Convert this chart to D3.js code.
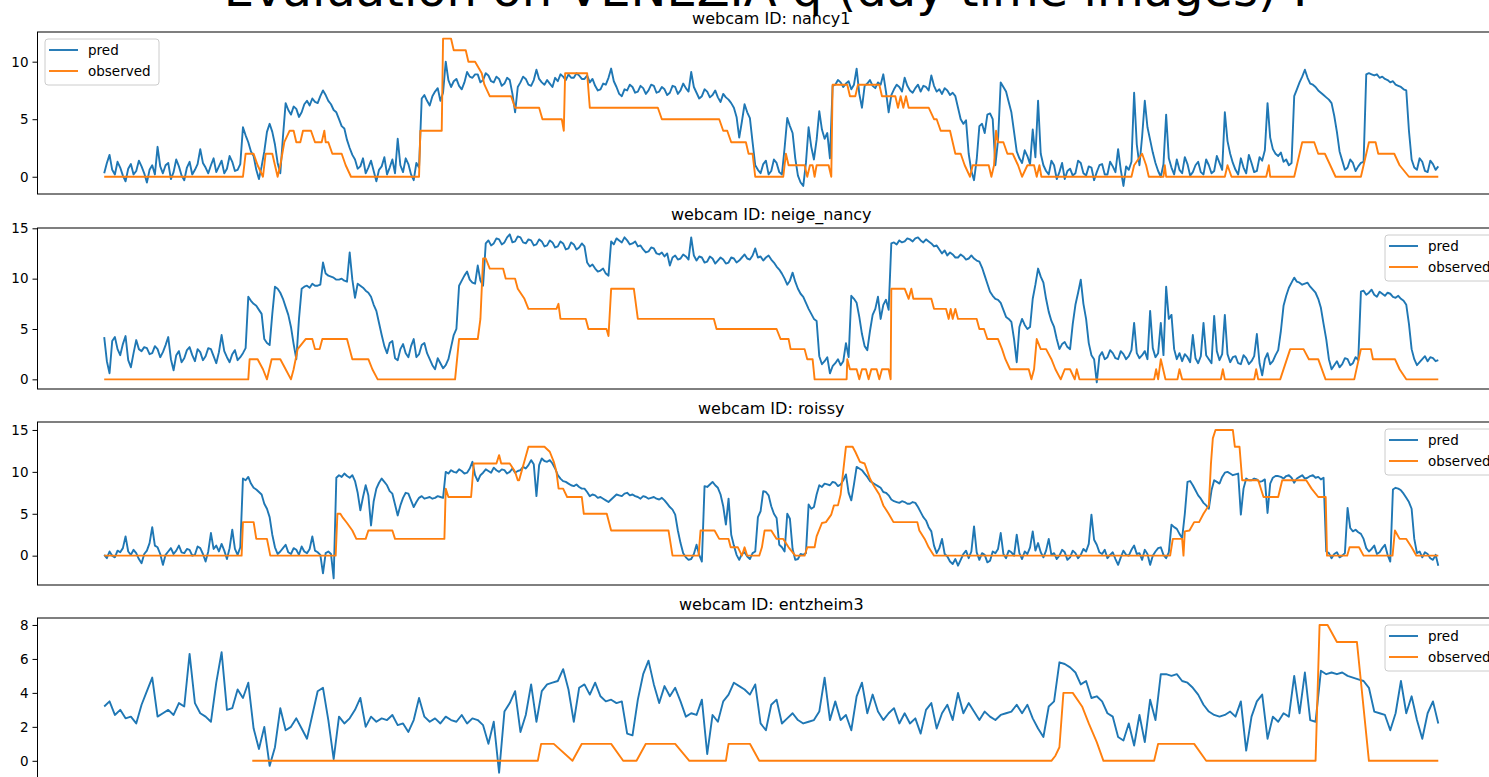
<!doctype html>
<html>
<head>
<meta charset="utf-8">
<title>Evaluation per webcam</title>
<script src="https://d3js.org/d3.v7.min.js"></script>
<style>
  body { margin: 0; background: #fff; }
  svg { display: block; font-family: "DejaVu Sans", sans-serif; }
</style>
</head>
<body>
<script>
// ---- data ----
const suptitle = "Evaluation on VENEZIA q (day time images) :";
const camIds = ["nancy1", "neige_nancy", "roissy", "entzheim3"];
const seriesNames = ["pred", "observed"];

// predictions, evenly spaced over t = 0 .. tMax
const tMax = 1000;
const pred1 = [
  0.3, 1.2, 1.9, 0.6, 0.2, 1.3, 0.8, 0.1, -0.4, 0.7, 1.1, 0.2, 0.5, 1.4, 0.9, 0.3, -0.5, 0.6, 1.0, 0.2,
  2.6, 0.9, 0.3, 1.0, 1.2, -0.2, 0.4, 1.5, 0.9, 0.1, -0.3, 0.8, 1.3, 0.2, 0.6, 1.1, 2.4, 1.2, 0.8, 0.3,
  1.0, 1.6, 0.4, 0.9, 1.4, 0.3, 0.7, 1.8, 1.3, 0.5, 0.6, 1.1, 4.3, 3.6, 3.0, 2.2, 1.8, 0.6, -0.2, 0.9,
  2.2, 3.9, 4.6, 3.9, 2.8, 1.2, 0.3, 3.5, 6.4, 5.8, 5.4, 6.1, 5.9, 5.2, 5.6, 6.3, 6.6, 6.2, 6.8, 6.5,
  6.4, 7.0, 7.5, 7.1, 6.6, 6.3, 5.8, 5.6, 5.0, 4.4, 4.2, 3.2, 2.5, 1.9, 1.5, 0.7, 0.9, 1.6, 0.3, 0.8,
  1.4, 0.5, -0.4, 0.6, 0.9, 1.7, 0.2, 0.8, 1.5, 0.3, 3.3, 1.0, 0.4, 1.6, 1.1, 0.2, -0.3, 1.2, 0.8, 6.8,
  7.1, 6.6, 6.2, 7.0, 7.4, 7.7, 6.6, 7.3, 10.0, 8.4, 7.8, 8.3, 8.5, 7.9, 7.6, 8.2, 9.1, 8.7, 8.6, 8.9,
  8.9, 8.2, 8.4, 9.0, 8.8, 8.3, 8.2, 8.7, 8.5, 7.9, 8.1, 8.6, 8.4, 7.2, 5.6, 7.8, 8.2, 8.7, 8.5, 8.0,
  7.9, 8.4, 9.3, 8.5, 8.2, 8.0, 8.4, 8.1, 7.8, 8.6, 8.3, 8.9, 8.7, 8.4, 8.9, 8.6, 8.6, 9.0, 8.8, 8.5,
  8.5, 8.8, 8.2, 8.5, 7.9, 7.5, 7.6, 8.1, 8.0, 8.6, 9.4, 8.3, 7.8, 7.2, 7.0, 7.6, 7.5, 8.0, 7.8, 7.3,
  7.4, 7.9, 7.7, 7.2, 7.5, 8.0, 7.9, 7.3, 7.4, 7.8, 7.6, 7.1, 7.3, 7.9, 7.8, 7.2, 7.5, 8.1, 7.7, 7.4,
  9.1, 7.8, 7.3, 6.8, 7.0, 7.6, 7.4, 6.9, 7.1, 7.5, 6.9, 6.5, 7.2, 6.9, 6.7, 6.4, 6.0, 5.2, 3.4, 4.8,
  6.3, 5.6, 5.1, 3.0, 1.0, 0.6, 0.3, 1.1, 1.4, 0.2, 0.5, 1.5, 1.2, 0.4, 0.2, 2.5, 5.1, 4.4, 3.8, 1.6,
  0.1, -0.5, -0.8, 1.2, 4.3, 2.6, 1.5, 3.2, 5.7, 4.1, 3.3, 3.8, 1.6, 7.9, 8.0, 8.4, 8.2, 7.8, 8.1, 8.3,
  7.6, 8.0, 9.4, 7.2, 6.0, 7.9, 8.1, 8.4, 7.9, 7.7, 8.2, 8.0, 8.9, 7.4, 5.6, 7.1, 7.6, 8.0, 7.8, 7.4,
  8.6, 7.9, 7.5, 7.3, 7.7, 8.0, 7.4, 7.9, 7.8, 7.5, 8.8, 7.9, 7.4, 7.6, 7.2, 7.7, 7.5, 7.1, 7.3, 7.0,
  6.0, 5.0, 4.6, 4.9, 2.0, 0.5, -0.3, 1.5, 4.4, 4.6, 3.8, 5.4, 5.5, 5.0, 1.0, 3.2, 8.2, 7.8, 7.4, 6.5,
  5.6, 3.9, 2.2, 1.6, 1.2, 2.3, 1.8, 1.1, 4.1, 1.7, 6.6, 2.0, 1.0, 0.5, 0.2, 1.4, 1.0, -0.2, 0.4, 1.2,
  -0.2, 0.5, 0.7, 0.1, 0.3, 1.4, 1.2, 0.3, 0.1, 0.9, 0.8, -0.3, 0.4, 1.0, 1.1, 0.2, 0.2, 1.3, 0.9, 0.4,
  2.4, 0.6, -0.8, 0.9, 0.6, 1.3, 7.3, 2.8, 1.0, 3.5, 6.6, 4.3, 3.2, 2.1, 1.2, 0.5, 0.0, 1.1, 5.4, 1.6,
  0.8, 0.2, 1.5, 0.6, 0.3, 1.7, 1.1, 0.1, 0.4, 1.0, 1.3, 0.4, 0.2, 1.5, 1.0, 0.3, 0.5, 1.8, 1.2, 0.6,
  5.6, 3.1, 2.0, 1.2, 0.6, 0.2, 1.6, 0.8, 0.3, 1.9, 1.2, 0.4, 0.5, 1.7, 1.4, 2.3, 6.4, 3.4, 2.4, 2.0,
  1.8, 2.1, 1.3, 1.5, 1.0, 1.2, 7.0, 7.6, 8.2, 8.7, 9.3, 8.6, 8.1, 8.0, 7.8, 7.5, 7.3, 7.1, 6.9, 6.7,
  6.4, 5.3, 3.9, 2.2, 1.4, 0.6, 0.8, 1.5, 1.2, 0.5, 0.9, 1.2, 1.3, 8.9, 9.0, 8.9, 8.8, 8.9, 8.6, 8.7,
  8.5, 8.4, 8.2, 8.3, 8.0, 7.9, 7.8, 7.6, 7.5, 4.0, 1.5, 0.8, 0.6, 1.6, 1.3, 0.5, 0.4, 1.4, 1.1, 0.6,
  0.9
];
const pred2 = [
  4.2, 1.8, 0.6, 3.8, 4.2, 3.0, 2.4, 3.5, 4.3, 1.9, 1.2, 2.6, 3.9, 3.0, 2.8, 3.2, 3.1, 2.5, 2.6, 3.3,
  3.0, 2.2, 2.7, 3.4, 4.2, 2.0, 0.9, 2.4, 2.8, 1.7, 2.1, 2.9, 3.2, 2.4, 1.8, 3.0, 2.7, 1.9, 2.3, 3.1,
  3.0, 2.3, 1.6, 2.7, 4.4, 2.8, 2.2, 1.7, 2.5, 2.9, 1.9, 2.2, 2.6, 3.1, 8.2, 7.8, 7.5, 7.3, 6.9, 6.5,
  4.0, 3.6, 3.4, 6.5, 9.2, 9.0, 8.6, 8.0, 7.2, 6.4, 5.2, 3.5, 2.0, 6.0, 9.0, 9.2, 9.3, 9.1, 9.5, 9.3,
  9.3, 9.4, 11.6, 10.5, 10.3, 10.2, 10.1, 9.9, 9.9, 10.0, 9.8, 9.7, 12.6, 9.9, 8.1, 9.5, 9.3, 9.1, 8.8, 8.6,
  8.2, 7.4, 6.8, 5.6, 4.4, 3.3, 2.6, 3.6, 3.8, 2.1, 1.9, 3.0, 3.5, 2.6, 2.2, 3.3, 4.0, 2.2, 2.5, 3.4,
  3.6, 2.6, 2.0, 1.4, 1.0, 2.1, 1.6, 1.1, 1.4, 2.0, 3.2, 4.4, 5.0, 9.3, 9.8, 10.3, 10.7, 9.9, 9.6, 9.5,
  11.3, 9.8, 9.3, 13.5, 13.8, 13.3, 13.5, 14.0, 13.9, 13.4, 13.6, 14.1, 14.4, 13.6, 13.7, 14.2, 14.1, 13.6, 13.5, 13.9,
  13.8, 13.3, 13.4, 13.9, 13.7, 13.2, 13.3, 13.8, 13.6, 13.1, 13.2, 13.7, 13.5, 12.9, 13.0, 13.6, 13.4, 12.9, 13.1, 13.5,
  13.2, 11.6, 11.2, 11.4, 11.0, 10.7, 10.8, 11.0, 10.5, 10.3, 13.7, 13.4, 14.0, 13.8, 13.6, 14.1, 13.8, 13.4, 13.5, 13.7,
  13.2, 13.3, 12.9, 12.6, 12.7, 13.1, 13.0, 12.5, 12.4, 12.6, 12.2, 12.5, 11.3, 12.1, 12.3, 11.9, 12.0, 12.4, 12.2, 11.9,
  14.1, 12.3, 11.8, 12.2, 12.1, 11.6, 11.7, 12.2, 12.0, 11.5, 11.8, 12.1, 11.9, 11.5, 11.6, 12.1, 12.0, 11.6, 11.8, 12.1,
  12.4, 12.0, 11.9, 12.3, 13.0, 12.1, 12.2, 11.8, 12.1, 12.3, 11.9, 11.6, 11.2, 10.9, 10.5, 10.0, 9.4, 9.8, 10.6, 9.7,
  9.0, 8.5, 8.2, 7.6, 7.0, 6.5, 6.0, 5.8, 2.3, 1.5, 1.8, 2.2, 0.6, 1.3, 1.6, 2.0, 1.4, 1.8, 3.6, 2.2,
  8.3, 8.0, 7.6, 6.2, 4.5, 3.3, 2.9, 4.8, 6.4, 7.0, 8.2, 6.0, 7.4, 7.9, 6.9, 13.5, 13.6, 13.4, 13.8, 13.6,
  13.7, 14.0, 13.9, 13.7, 14.0, 14.1, 13.8, 13.6, 13.9, 13.7, 13.5, 13.2, 13.3, 12.9, 12.5, 12.8, 12.3, 12.6, 12.4, 12.1,
  12.1, 12.4, 12.2, 11.9, 12.0, 12.3, 12.0, 11.8, 11.7, 11.1, 10.3, 9.5, 8.7, 8.3, 8.0, 7.9, 7.6, 6.9, 6.2, 6.0,
  5.7, 4.0, 1.7, 5.2, 6.0, 5.4, 5.0, 5.2, 8.0, 9.4, 11.0, 10.2, 9.6, 8.0, 6.7, 5.8, 5.2, 4.0, 3.0, 3.5,
  3.7, 3.2, 3.0, 5.5, 7.4, 8.6, 9.9, 7.5, 6.0, 3.6, 2.4, 2.0, -0.3, 2.3, 2.7, 2.0, 2.2, 2.9, 2.6, 2.1,
  2.0, 2.8, 2.5, 2.0, 2.3, 2.9, 5.6, 2.6, 2.1, 2.4, 2.8, 2.0, 6.8, 3.1, 2.2, 2.6, 5.6, 2.4, 9.2, 6.0,
  6.4, 3.0, 2.0, 2.6, 1.8, 2.5, 2.2, 1.7, 4.4, 2.1, 1.6, 2.3, 5.6, 2.4, 2.0, 1.6, 6.3, 2.8, 1.9, 2.5,
  6.4, 2.5, 1.7, 2.2, 2.3, 1.6, 1.5, 2.4, 2.1, 1.5, 1.8, 2.3, 4.5, 1.6, 0.4, 2.0, 2.6, 1.5, 1.8, 2.4,
  2.9, 4.8, 7.3, 8.3, 9.1, 9.6, 10.1, 9.7, 9.6, 9.4, 9.5, 9.6, 9.2, 8.9, 8.6, 8.0, 7.1, 5.5, 4.0, 2.0,
  1.0, 1.4, 1.8, 1.2, 1.5, 2.1, 2.0, 1.4, 1.6, 2.2, 1.9, 8.7, 8.8, 8.4, 8.6, 8.9, 8.4, 8.2, 8.7, 8.5,
  8.3, 8.6, 8.5, 8.2, 8.1, 8.3, 8.0, 7.8, 7.4, 5.5, 3.0, 2.0, 1.4, 1.7, 2.0, 2.3, 1.8, 2.2, 2.1, 1.8,
  1.9
];
const pred3 = [
  0.1, -0.3, 0.5, 0.0, -0.2, 0.6, 0.4, 0.9, 2.3, 0.5, 0.1, 0.7, 0.3, -0.4, -0.9, 0.2, 0.6, 1.5, 3.4, 1.2,
  1.0, 0.2, -1.1, 0.1, 0.5, 0.9, 0.2, 0.6, 1.2, 0.4, 0.3, 0.8, 0.7, 0.0, 0.1, 1.1, 0.9, 0.2, -0.7, 0.5,
  2.7, 0.8, 1.2, 0.5, 1.4, 0.6, -0.4, 0.9, 3.1, 0.8, 0.1, 1.0, 9.2, 9.0, 9.4, 8.6, 8.1, 7.9, 7.6, 7.3,
  6.2, 5.6, 4.6, 2.5, 1.0, 0.2, 0.5, 0.9, 1.3, 0.4, 0.2, 0.9, 0.7, 0.1, 1.1, 0.5, 0.3, 0.8, 2.3, 0.6,
  0.4, 0.1, -2.1, 0.3, 0.5, 0.2, -2.7, 9.3, 9.6, 9.4, 9.8, 9.5, 9.3, 9.6, 8.9, 7.5, 5.4, 7.0, 8.4, 7.2,
  3.6, 6.5, 8.0, 8.7, 9.2, 8.8, 8.4, 7.7, 7.4, 6.1, 4.8, 6.0, 6.9, 7.5, 7.4, 6.6, 5.8, 6.4, 6.9, 7.1,
  6.8, 6.9, 7.0, 6.8, 6.9, 7.1, 7.0, 6.9, 10.0, 9.8, 10.2, 10.0, 9.9, 10.3, 10.1, 9.8, 9.9, 10.4, 11.2, 9.6,
  8.9, 9.6, 9.9, 10.3, 10.1, 9.9, 10.5, 10.2, 10.0, 10.3, 10.2, 9.8, 10.0, 10.4, 9.9, 10.1, 10.2, 10.6, 10.4, 10.8,
  11.4, 10.9, 7.1, 10.8, 11.6, 11.3, 11.2, 11.4, 11.0, 10.4, 9.6, 9.2, 8.9, 8.8, 8.6, 8.4, 8.3, 8.5, 8.2, 8.0,
  8.0, 7.6, 7.1, 7.3, 7.2, 6.9, 7.0, 6.8, 6.6, 6.4, 6.7, 7.0, 7.3, 7.2, 7.1, 7.4, 7.5, 7.2, 7.3, 7.1,
  7.0, 6.8, 7.1, 7.0, 6.8, 6.9, 7.0, 6.8, 6.7, 6.9, 6.6, 6.2, 5.8, 5.5, 4.9, 3.0, 1.5, 0.3, -0.2, -0.5,
  -0.4, 0.2, 1.3, 0.1, -0.7, 8.3, 8.2, 8.5, 8.8, 8.4, 8.1, 7.3, 5.9, 3.7, 6.8, 2.5, 1.2, 0.1, -0.5, 0.2,
  0.4, -0.1, -0.4, 0.3, 0.5, 4.6, 5.3, 7.7, 7.6, 7.2, 5.9, 5.0, 4.5, 1.3, 1.0, 0.5, 5.0, 4.4, 0.8, -0.5,
  -0.4, 0.2, 0.1, 0.3, 6.1, 5.6, 5.8, 7.3, 8.4, 8.2, 8.6, 8.5, 8.4, 8.8, 8.7, 8.3, 8.5, 9.0, 9.7, 7.5,
  6.6, 8.5, 10.6, 10.4, 10.2, 9.8, 9.4, 8.9, 8.7, 8.5, 8.3, 8.1, 7.6, 7.5, 7.2, 6.7, 6.5, 6.4, 6.3, 6.5,
  6.4, 6.2, 6.2, 6.4, 6.3, 5.8, 5.2, 4.6, 4.2, 3.4, 2.9, 1.2, 0.3, 0.9, 2.0, 0.2, -0.1, -0.7, -1.0, -0.4,
  -1.2, -0.5, 0.2, 0.6, -0.3, 0.5, 3.5, 0.4, -0.5, 0.3, 0.1, -0.8, -0.6, 0.5, 0.3, 0.8, 2.7, 0.2, -0.3, 0.6,
  0.4, 0.0, 2.5, 0.3, -0.4, 0.5, 0.2, 1.0, 2.9, 0.6, 1.5, 0.4, -0.2, 0.6, 2.0, 0.1, 0.3, -0.4, 0.0, 0.7,
  0.4, -0.5, -0.2, 0.6, 0.3, -0.3, 0.1, 0.8, 0.5, 1.4, 4.9, 1.9, 1.3, 0.4, 0.2, 0.7, -0.3, 0.1, 0.4, -0.4,
  -1.1, -0.2, 0.6, 0.1, 0.0, 0.7, 1.2, 0.2, 0.3, -0.5, 0.7, 0.2, -1.1, 0.0, 0.5, 0.9, 1.0, 0.1, -0.3, 0.4,
  3.7, 3.4, 3.2, 2.6, 2.1, 5.0, 8.8, 8.9, 8.4, 7.8, 7.2, 6.8, 6.3, 6.0, 5.6, 7.8, 9.0, 8.8, 8.6, 9.4,
  9.9, 10.0, 9.8, 9.6, 9.7, 9.8, 4.9, 8.0, 9.2, 9.0, 9.0, 9.2, 9.1, 8.8, 8.9, 9.1, 5.1, 8.6, 9.3, 9.5,
  9.5, 9.4, 9.2, 9.5, 9.6, 9.3, 8.7, 9.2, 9.4, 9.6, 9.2, 9.3, 9.5, 9.6, 9.3, 9.4, 9.1, 9.3, 0.5, 0.3,
  -0.3, 0.2, 0.4, -0.2, 0.0, 0.3, 5.7, 3.3, 2.9, 3.1, 2.8, 2.6, 2.0, 0.9, 0.5, 0.8, 1.2, 0.2, 0.4, 0.9,
  1.3, 0.1, -0.7, 7.9, 8.1, 8.0, 7.8, 7.4, 6.9, 6.4, 5.6, 2.0, 0.3, 0.5, -0.2, 0.4, 0.2, -0.3, -0.5, 0.1,
  -1.2
];
const pred4 = [
  3.2, 3.5, 2.7, 3.0, 2.5, 2.6, 2.2, 3.3, 4.1, 4.9,
  2.6, 2.8, 3.0, 2.7, 3.4, 3.2, 6.3, 3.4, 2.8, 2.6,
  2.3, 4.6, 6.4, 3.0, 3.1, 4.2, 3.7, 4.6, 1.9, 0.7,
  2.0, -0.3, 0.8, 3.1, 1.8, 2.0, 2.5, 1.9, 1.3, 2.7,
  4.1, 4.3, 2.4, 0.1, 2.6, 2.2, 2.5, 3.0, 3.7, 2.0,
  2.6, 2.3, 2.5, 2.4, 2.7, 2.1, 2.2, 1.7, 2.4, 3.7,
  2.6, 2.3, 2.5, 2.2, 2.6, 2.4, 2.3, 2.7, 2.2, 2.5,
  2.4, 2.1, 1.0, 2.3, -0.7, 2.9, 3.4, 4.1, 1.7, 2.7,
  4.5, 2.3, 4.1, 4.5, 4.6, 4.7, 5.4, 4.2, 2.3, 4.3,
  4.5, 3.9, 4.6, 3.8, 3.5, 3.6, 3.4, 3.5, 1.6, 1.5,
  3.6, 5.1, 5.9, 4.5, 3.4, 4.4, 3.8, 4.3, 3.5, 2.6,
  2.8, 2.7, 3.6, 0.4, 2.7, 2.3, 3.5, 3.9, 4.6, 4.4,
  4.2, 3.9, 4.5, 2.2, 1.8, 3.3, 3.6, 2.2, 2.5, 2.8,
  2.4, 2.2, 2.3, 2.4, 2.9, 4.9, 2.4, 3.5, 2.4, 2.7,
  1.8, 3.8, 4.6, 2.8, 3.9, 2.9, 2.4, 2.8, 3.1, 2.2,
  2.8, 2.2, 2.5, 1.6, 3.0, 3.4, 1.9, 2.8, 3.3, 2.4,
  4.0, 2.8, 3.4, 2.9, 2.4, 2.9, 2.6, 2.4, 2.7, 2.8,
  2.9, 3.3, 2.8, 3.3, 2.5, 1.9, 1.4, 3.2, 3.5, 5.8,
  5.7, 5.5, 5.2, 4.5, 4.7, 3.7, 3.8, 3.5, 2.8, 2.6,
  1.4, 1.2, 2.2, 0.9, 2.7, 1.1, 3.6, 2.4, 5.1, 5.1,
  5.0, 5.1, 4.7, 4.6, 4.3, 3.9, 3.3, 2.9, 2.7, 2.6,
  2.7, 2.9, 2.6, 3.5, 0.6, 2.6, 3.5, 3.9, 1.3, 2.6,
  2.3, 2.8, 2.6, 5.0, 2.8, 5.2, 2.4, 2.3, 5.3, 5.1,
  5.2, 5.1, 5.2, 5.0, 4.9, 4.8, 4.7, 4.3, 2.9, 2.8,
  2.7, 1.8, 2.8, 4.7, 2.8, 3.8, 2.4, 1.3, 2.8, 3.5,
  2.2
];

// observed values as [t, value] break points
const obs1 = [[0,0],[104,0],[106,2],[112,2],[115,1],[119,0],[121,2],[126,2],[128,1],[130,0],[132,1],[135,3],[139,4],[142,4],[144,3],[147,3],[149,4],[155,4],[158,3],[163,3],[165,4],[166,3],[168,3],[171,2],[178,2],[181,1],[185,0],[236,0],[237,4],[253,4],[254,12],[260,12],[262,11],[271,11],[273,10],[278,10],[283,9],[285,8],[289,7],[305,7],[308,6],[326,6],[328.5,5],[343,5],[344.5,4],[345.5,9],[362,9],[364,6],[415,6],[418,5],[461,5],[464,4],[467,4],[470,3],[481,3],[483,2],[486,2],[488,0],[509,0],[511,2],[513,1],[525,1],[527,0],[529,1],[531,1],[532.5,0],[534,1],[543,1],[545,0],[546,8],[557,8],[559,7],[563,7],[565,8],[581,8],[583,7],[593,7],[595,6],[597,7],[599,6],[601,7],[603,6],[618,6],[622,5],[624,5],[627,4],[634,4],[638,2],[642,2],[645,1],[649,0],[651,1],[663,1],[665,0],[667,1],[668.5,4],[670,3],[674,3],[677,2],[681,2],[685,1],[688,0],[692,1],[697,1],[699,0],[701,1],[702.5,0],[770,0],[772,1],[778,2],[781,1],[783,0],[794,0],[795,1],[796,0],[840,0],[842,1],[845,0],[871,0],[873,1],[874,0],[892,0],[898,3],[907,3],[910,2],[915,2],[923,0],[942,0],[948,3],[953,3],[955,2],[967,2],[971,1],[978,0],[1000,0]];
const obs2 = [[0,0],[108,0],[109,2],[115,2],[119,1],[122,0],[125.5,2],[132,2],[136,1],[140,0],[142,1],[145,3],[151,4],[156,4],[158,3],[161.5,3],[163.5,4],[182,4],[184,3],[186,2],[198,2],[201,1],[205,0],[263,0],[266,4],[280,4],[282,6],[284,12],[286,12],[289,11],[299,11],[301,10],[308,10],[310,9],[315,8],[318,7],[339,7],[340.5,7.5],[342,6],[361,6],[363,5],[376.5,5],[378,4.3],[380,9],[397,9],[400,6],[457,6],[459,5],[504,5],[507,4],[513,4],[514.5,3],[525,3],[527,2],[531,2],[532.5,0],[556.5,0],[557,2],[559,1],[564,1],[566,0],[568,1],[571,1],[573,0],[575,1],[579,1],[581,0],[583,1],[588,1],[589.5,0],[590,9],[600,9],[603,8],[605,9],[606.5,8],[620,8],[622,7],[631,7],[633,6],[634.5,7],[636,6],[638,7],[640,6],[654,6],[656,5],[659.5,5],[662,4],[670,4],[673,3],[675.5,2],[679,1],[693,1],[695,0],[697,1],[699,4],[702,3],[706,3],[710,2],[713,1],[717,0],[720,1],[724,1],[727.5,0],[729,1],[731,0],[787,0],[788.5,1],[790,0],[792,2],[795.5,0],[804.5,0],[806,1],[808,0],[837,0],[838.5,1],[840,0],[862,0],[863.5,1],[865,0],[881.5,0],[889,3],[899,3],[903,2],[910,2],[915.5,0],[937,0],[942,3],[949.5,3],[951,2],[967.5,2],[971,1],[976,0],[1000,0]];
const obs3 = [[0,0],[103,0],[104,4],[112,4],[114,2],[122,2],[124.5,0],[173.5,0],[174.8,5],[177,5],[179,4.5],[182,3.9],[186,3],[189,2],[196,2],[198,3],[216,3],[218,2],[255,2],[256,8],[258,7],[275,7],[277,11],[294,11],[296,12],[297.6,11],[304,11],[308,10],[310,9],[311,9],[318,13],[330,13],[334,12.4],[337,11.2],[339,10],[340.6,8],[344,8],[347,7],[358,7],[359.5,5],[376.7,5],[380,3],[423,3],[426,0],[445.5,0],[447,3],[457.5,3],[461,2],[468,2],[469.6,1],[475,1],[478,0],[480,1],[482,0],[491,0],[493,1],[495,3],[500,3],[504,2],[509,2],[513,1],[518,0],[525,0],[527,1],[532.5,1],[534,2.3],[538,3.9],[541,4],[545,4.9],[547,6],[550,6],[552,7.3],[556,13],[561,13],[563,12.4],[566.5,11.2],[570,11],[574,9.2],[577,8.3],[581,7.3],[584,6],[588,5],[591.6,4],[609.5,4],[611,3],[615,2],[618,1],[622,0],[799,0],[801,2],[808,2],[809,0],[810,2.9],[813.5,3],[817,4],[820.7,4],[824,5],[828,6],[829.6,11],[831,14],[833,15],[846,15],[847.5,13],[851,13],[853,9],[865,9],[869,7],[880,7],[883,9],[901,9],[905,8],[910,7],[915.6,7],[916.6,0],[931.7,0],[933.5,1],[940.6,1],[944,0],[965.7,0],[967.5,3],[971,2],[976,2],[980,1],[983.6,0],[1000,0]];
const obs4 = [[111,0],[325,0],[327.5,1],[337,1],[351,0],[358,1],[380,1],[389,0],[399,0],[406,1],[428,1],[438.6,0],[466,0],[468,1],[484,1],[491,0],[710,0],[713,0.3],[716,0.8],[719,4],[726,4],[733,3.2],[738,2.2],[744,1.1],[749,0],[787,0],[790,1],[817,1],[826,0],[908,0],[911,8],[917,8],[924,7],[939,7],[948,0],[1000,0]];

const yTicks1 = [0, 5, 10];
const yTicks2 = [0, 5, 10, 15];
const yTicks3 = [0, 5, 10, 15];
const yTicks4 = [0, 2, 4, 6, 8];

// ---- layout ----
const w = 1489, h = 777;
const axLeft = 37.5, axRight = 1505;
const predColor = "#1f77b4", obsColor = "#ff7f0e";
const lineW = 1.9;

const panels = [
  {cam: camIds[0], pred: pred1, obs: obs1, ticks: yTicks1, top: 32, bottom: 194, yMin: -1.5, yMax: 12.58, legend: "left"},
  {cam: camIds[1], pred: pred2, obs: obs2, ticks: yTicks2, top: 228, bottom: 389, yMin: -0.96, yMax: 15.03, legend: "right"},
  {cam: camIds[2], pred: pred3, obs: obs3, ticks: yTicks3, top: 422, bottom: 585, yMin: -3.5, yMax: 15.95, legend: "right"},
  {cam: camIds[3], pred: pred4, obs: obs4, ticks: yTicks4, top: 618, bottom: 780, yMin: -1.13, yMax: 8.41, legend: "right"}
];

const svg = d3.select("body").append("svg")
    .attr("width", w)
    .attr("height", h);

svg.append("rect").attr("width", w).attr("height", h).attr("fill", "#fff");

const x = d3.scaleLinear().domain([-50, tMax + 50]).range([axLeft, axRight]);

svg.append("text")
    .attr("x", 766)
    .attr("y", 6)
    .attr("text-anchor", "middle")
    .style("font-size", "48px")
    .attr("fill", "#000")
    .text(suptitle);

panels.forEach((p, k) => {
    const y = d3.scaleLinear().domain([p.yMin, p.yMax]).range([p.bottom, p.top]);
    const g = svg.append("g");
    const n = p.pred.length;

    g.append("clipPath").attr("id", "clip" + k)
      .append("rect")
        .attr("x", axLeft).attr("y", p.top)
        .attr("width", axRight - axLeft).attr("height", p.bottom - p.top);

    const predLine = d3.line()
        .x((d, i) => x(i * tMax / (n - 1)))
        .y(d => y(d));
    const obsLine = d3.line()
        .x(d => x(d[0]))
        .y(d => y(d[1]));

    const plot = g.append("g").attr("clip-path", "url(#clip" + k + ")");
    plot.append("path")
        .datum(p.pred)
        .attr("d", predLine)
        .attr("fill", "none")
        .attr("stroke", predColor)
        .attr("stroke-width", lineW)
        .attr("stroke-linejoin", "round");
    plot.append("path")
        .datum(p.obs)
        .attr("d", obsLine)
        .attr("fill", "none")
        .attr("stroke", obsColor)
        .attr("stroke-width", lineW)
        .attr("stroke-linejoin", "round");

    // y axis
    const yAxis = d3.axisLeft(y).tickValues(p.ticks).tickSize(5).tickPadding(4);
    const ax = g.append("g")
        .attr("transform", "translate(" + axLeft + ",0)")
        .call(yAxis);
    ax.select(".domain").remove();
    ax.selectAll("line").attr("stroke", "#000");
    ax.selectAll("text")
        .attr("fill", "#000")
        .style("font-size", "13.5px")
        .style("font-family", "DejaVu Sans, sans-serif");

    // frame
    g.append("rect")
        .attr("x", axLeft)
        .attr("y", p.top)
        .attr("width", axRight - axLeft)
        .attr("height", p.bottom - p.top)
        .attr("fill", "none")
        .attr("stroke", "#000")
        .attr("stroke-width", 1);

    g.append("text")
        .attr("x", (axLeft + axRight) / 2)
        .attr("y", p.top - 8)
        .attr("text-anchor", "middle")
        .style("font-size", "16px")
        .attr("fill", "#000")
        .text("webcam ID: " + p.cam);

    // legend
    const lx = p.legend === "left" ? 45 : 1385;
    const lg = g.append("g").attr("transform", "translate(" + lx + "," + (p.top + 7) + ")");
    lg.append("rect")
        .attr("width", 114)
        .attr("height", 46)
        .attr("rx", 3)
        .attr("fill", "#fff")
        .attr("fill-opacity", 0.8)
        .attr("stroke", "#cccccc");
    [predColor, obsColor].forEach((c, j) => {
        const ry = 11 + j * 21;
        lg.append("line")
            .attr("x1", 4).attr("x2", 33)
            .attr("y1", ry).attr("y2", ry)
            .attr("stroke", c)
            .attr("stroke-width", lineW);
        lg.append("text")
            .attr("x", 43)
            .attr("y", ry + 5)
            .style("font-size", "13.5px")
            .attr("fill", "#000")
            .text(seriesNames[j]);
    });
});
</script>
</body>
</html>
